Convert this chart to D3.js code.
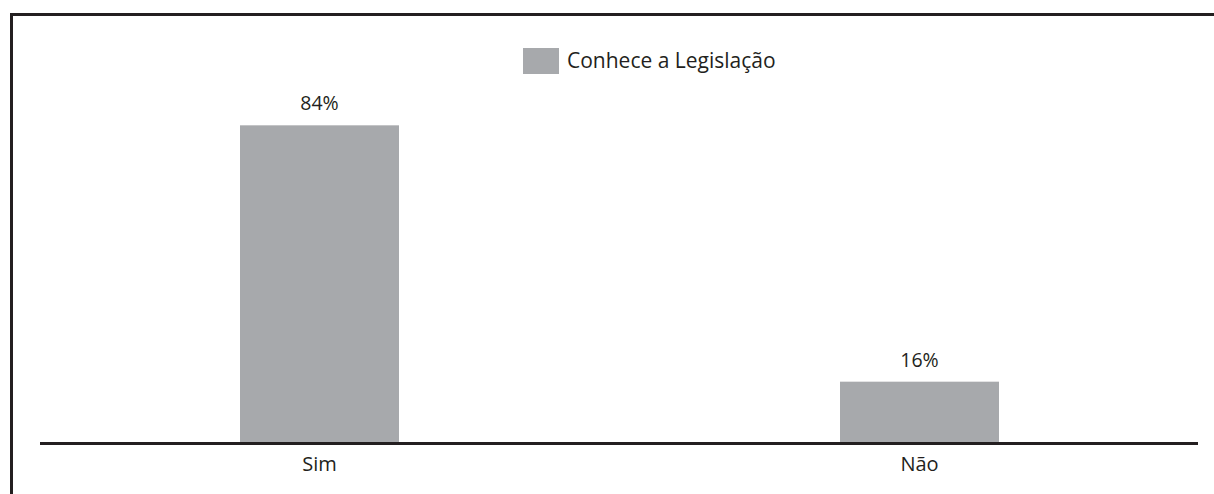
<!DOCTYPE html>
<html>
<head>
<meta charset="utf-8">
<script src="https://cdn.jsdelivr.net/npm/d3@7"></script>
<style>
  html, body { margin: 0; padding: 0; background: #fff; }
  svg { display: block; }
  text { font-family: "Open Sans", "Noto Sans", sans-serif; fill: #231f20; }
</style>
</head>
<body>
<svg id="chart" width="1214" height="494"></svg>
<script>
const categories = ["Sim", "Não"];
const values = [84, 16];
const valueLabels = ["84%", "16%"];
const seriesName = "Conhece a Legislação";

const svg = d3.select("#chart");
const barColor = "#a7a9ac";
const inkColor = "#231f20";

// outer frame (cut off on right and bottom)
svg.append("rect")
  .attr("x", 11.5).attr("y", 14.5)
  .attr("width", 1300).attr("height", 600)
  .attr("fill", "none").attr("stroke", inkColor).attr("stroke-width", 3);

const x = d3.scaleBand()
  .domain(categories)
  .range([19.5, 1219.5])
  .paddingInner(0.735)
  .paddingOuter(0.3675);

const y = d3.scaleLinear().domain([0, 100]).range([442, 65]);

const data = categories.map((c, i) => ({ c, v: values[i], label: valueLabels[i] }));

svg.selectAll("rect.bar").data(data).enter().append("rect")
  .attr("class", "bar")
  .attr("x", d => x(d.c))
  .attr("y", d => y(d.v))
  .attr("width", x.bandwidth())
  .attr("height", d => y(0) - y(d.v))
  .attr("fill", barColor);

svg.selectAll("text.val").data(data).enter().append("text")
  .attr("class", "val")
  .attr("x", d => x(d.c) + x.bandwidth() / 2)
  .attr("y", d => y(d.v) - 15)
  .attr("text-anchor", "middle")
  .style("font-size", "19.5px")
  .text(d => d.label);

// baseline axis
svg.append("line")
  .attr("x1", 40).attr("x2", 1198)
  .attr("y1", y(0) + 1.5).attr("y2", y(0) + 1.5)
  .attr("stroke", inkColor).attr("stroke-width", 3);

const xAxis = d3.axisBottom(x).tickSize(0).tickPadding(0);
const gx = svg.append("g").attr("transform", `translate(0, ${y(0) + 3})`).call(xAxis);
gx.select(".domain").remove();
gx.selectAll("text")
  .attr("dy", null)
  .attr("y", 26)
  .style("font-size", "20px")
  .style("font-family", '"Open Sans", "Noto Sans", sans-serif')
  .attr("fill", inkColor);

// legend
const lg = svg.append("g");
lg.append("rect").attr("x", 523).attr("y", 48).attr("width", 36).attr("height", 26).attr("fill", barColor);
lg.append("text").attr("x", 567).attr("y", 67.5).style("font-size", "21px").text(seriesName);
</script>
</body>
</html>
